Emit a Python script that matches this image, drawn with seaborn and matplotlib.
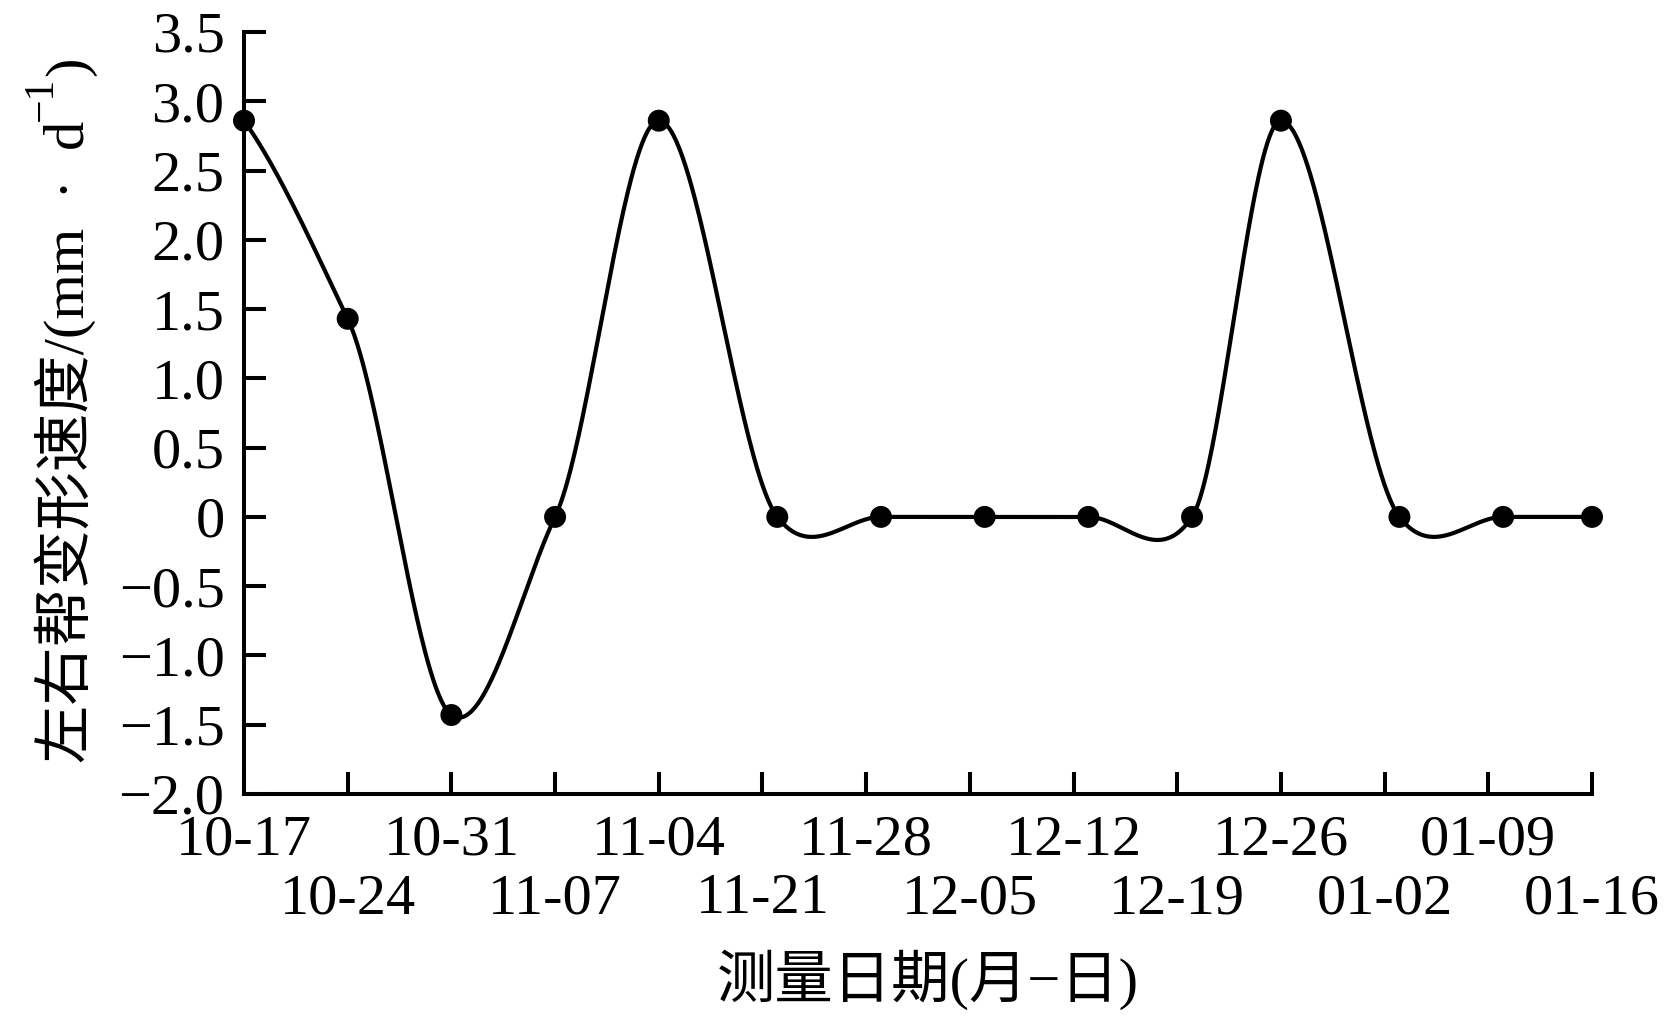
import numpy as np
import seaborn as sns
import matplotlib.pyplot as plt
from matplotlib.ticker import FixedLocator, FixedFormatter

# measurement days counted from 10-17, and deformation rate (mm/d)
days = [0, 7, 14, 21, 28, 36, 43, 50, 57, 64, 70, 78, 85, 91]
rate = [2.86, 1.43, -1.43, 0, 2.86, 0, 0, 0, 0, 0, 2.86, 0, 0, 0]

tick_days_top = [0, 14, 28, 42, 56, 70, 84]
tick_labels_top = ["10-17", "10-31", "11-04", "11-28", "12-12", "12-26", "01-09"]
tick_days_bot = [7, 21, 35, 49, 63, 77, 91]
tick_labels_bot = ["10-24", "11-07", "11-21", "12-05", "12-19", "01-02", "01-16"]

y_ticks = [3.5, 3.0, 2.5, 2.0, 1.5, 1.0, 0.5, 0, -0.5, -1.0, -1.5, -2.0]
y_labels = ["3.5", "3.0", "2.5", "2.0", "1.5", "1.0", "0.5", "0",
            "\u22120.5", "\u22121.0", "\u22121.5", "\u22122.0"]


def smooth(x, y, scale=0.73, n=80):
    # cardinal (Hermite) spline through the points, like the smoothed line
    x = np.asarray(x, float)
    y = np.asarray(y, float)
    m = np.empty_like(y)
    m[1:-1] = (y[2:] - y[:-2]) / (x[2:] - x[:-2])
    m[0] = (y[1] - y[0]) / (x[1] - x[0])
    m[-1] = (y[-1] - y[-2]) / (x[-1] - x[-2])
    m *= scale
    xs, ys = [], []
    for i in range(len(x) - 1):
        h = x[i + 1] - x[i]
        t = np.linspace(0, 1, n)
        h00 = 2 * t**3 - 3 * t**2 + 1
        h10 = t**3 - 2 * t**2 + t
        h01 = -2 * t**3 + 3 * t**2
        h11 = t**3 - t**2
        ys.append(h00 * y[i] + h10 * h * m[i] + h01 * y[i + 1] + h11 * h * m[i + 1])
        xs.append(x[i] + t * h)
    return np.concatenate(xs), np.concatenate(ys)


sns.set_theme(style="ticks", rc={"text.color": "black", "axes.labelcolor": "black",
                                 "xtick.color": "black", "ytick.color": "black",
                                 "axes.edgecolor": "black"})
plt.rcParams['font.family'] = ['Liberation Serif', 'Noto Sans CJK SC', 'DejaVu Sans']
plt.rcParams['axes.unicode_minus'] = True

W, H = 1670, 1024
fig = plt.figure(figsize=(W / 100, H / 100), dpi=100)
ax = fig.add_axes([244 / W, 1 - 794 / H, 1348 / W, 762 / H])

xs, ys = smooth(days, rate)
sns.lineplot(x=xs, y=ys, ax=ax, color="black", linewidth=3.0, sort=False, estimator=None)
sns.scatterplot(x=days, y=rate, ax=ax, color="black", s=250, edgecolor="none",
                clip_on=False, zorder=5)

ax.set_xlim(0, 91)
ax.set_ylim(-2.0, 3.5)
sns.despine(ax=ax)
for s in ["left", "bottom"]:
    ax.spines[s].set_linewidth(2.9)
    ax.spines[s].set_color("black")

ax.xaxis.set_major_locator(FixedLocator(tick_days_top))
ax.xaxis.set_major_formatter(FixedFormatter(tick_labels_top))
ax.xaxis.set_minor_locator(FixedLocator(tick_days_bot))
ax.xaxis.set_minor_formatter(FixedFormatter(tick_labels_bot))
ax.set_yticks(y_ticks)
ax.set_yticklabels(y_labels)

ax.tick_params(axis="x", which="major", direction="in", length=16, width=2.9,
               labelsize=42, pad=15, color="black", labelcolor="black")
ax.tick_params(axis="x", which="minor", direction="in", length=16, width=2.9,
               labelsize=42, pad=57, color="black", labelcolor="black")
ax.tick_params(axis="y", direction="in", length=16, width=2.9,
               labelsize=42, pad=14, color="black", labelcolor="black")

ax.set_xlabel("测量日期(月\u2212日)", fontsize=42, va="center", color="black")
ax.xaxis.set_label_coords(0.507, -0.244)

# y label: main text, raised "-1", closing bracket, laid along one baseline
rot = dict(rotation=90, rotation_mode="anchor", ha="left", va="baseline", color="black")
main = fig.text(84 / W, 1 - 763 / H, "左右帮变形速度/(mm\u2002·\u2002d", fontsize=42, **rot)
fig.canvas.draw()
r = fig.canvas.get_renderer()
y_end = main.get_window_extent(r).y1
sup = fig.text(52 / W, y_end / H, "\u22121", fontsize=30, **rot)
fig.canvas.draw()
y_end2 = sup.get_window_extent(r).y1
fig.text(84 / W, y_end2 / H, ")", fontsize=42, **rot)

fig.savefig("out.png", dpi=100)
